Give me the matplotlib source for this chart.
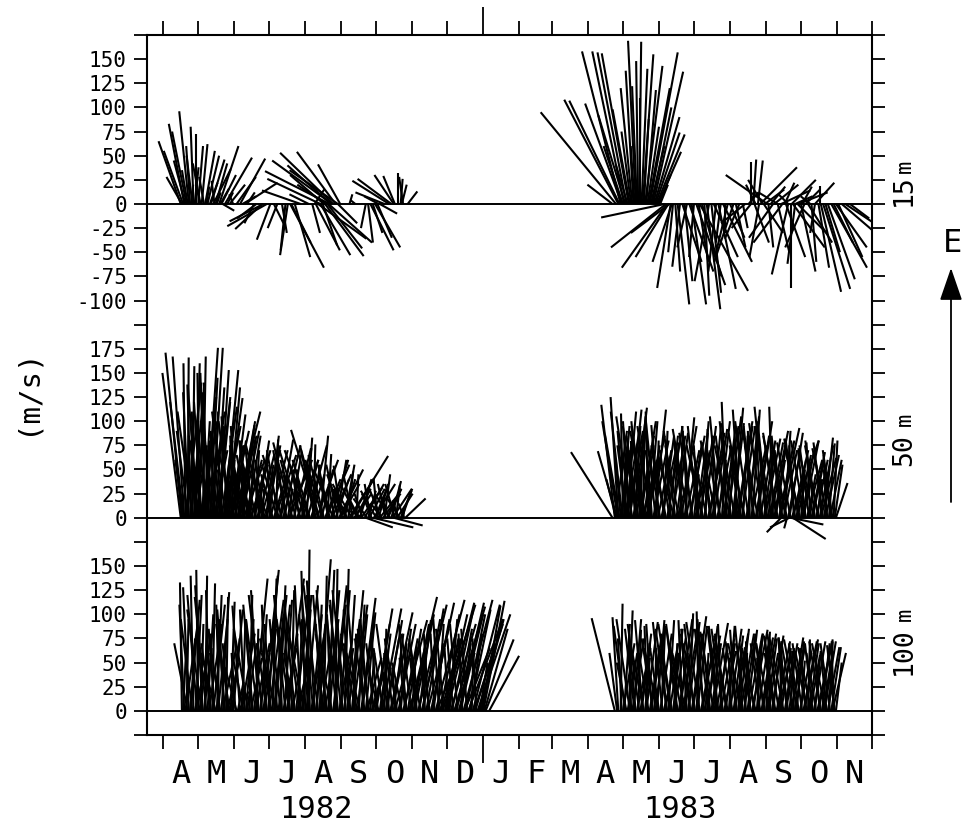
import numpy as np
import matplotlib.pyplot as plt
from matplotlib.collections import LineCollection
from matplotlib.transforms import blended_transform_factory

# current sticks: (day since 1 Apr 1982, north comp., east comp.)
top_82 = [
    (15, -23, 65), (16, -16, 28), (17, -20, 55), (18, -16, 83), (19, -12, 45), (20, -15, 75),
    (21, -6, 35), (22, -10, 96), (23, -4, 60), (24, 2, 20), (25, -6, 50), (26, -3, 80),
    (27, 4, 38), (28, 0, 72), (30, 5, 60), (31, -2, 15), (32, -8, 42), (33, 6, 62),
    (35, -5, 28), (36, 10, 55), (37, 3, 18), (38, 12, 50), (40, 8, 22), (41, 14, 46),
    (43, 18, 36), (44, -3, 24), (45, 12, 42), (46, 4, 12), (48, 20, 60), (49, 9, 16),
    (50, 15, 30), (51, 12, -7), (53, 28, 48), (55, 6, 12), (57, 16, 20), (60, -4, 10),
    (63, 20, 28), (66, 26, 47), (68, 14, 8), (70, 34, 22), (72, 8, 12), (78, -10, -20),
    (80, -20, -15), (85, -28, -26), (86, -35, -18), (89, -41, -23), (92, -14, -37),
    (95, 10, -20), (98, -10, -25), (102, 5, -30), (105, -5, -48), (107, -8, -53),
    (109, 35, -66), (110, 20, -40), (113, 16, -55), (118, -40, 14), (125, -20, 10),
    (128, 8, -30), (130, 10, 15), (131, 25, -48), (133, 50, -36), (135, 31, -53),
    (135, -55, 26), (137, 15, -43), (138, -35, 30), (139, 40, -54), (140, -30, 20),
    (141, 36, -46), (142, 45, -40), (143, -67, 34), (144, -45, 40), (145, -62, 45),
    (146, -55, 53), (148, -40, 54), (150, -50, 35), (150, 20, -20), (152, -23, 41),
    (160, 3, 10), (165, -5, 4), (174, -5, -25), (176, 5, -40), (178, 24, -48),
    (180, 10, -30), (182, 26, -45), (184, 15, -35), (185, -15, 8), (186, 18, -10),
    (190, -30, 12), (194, -38, 24), (196, -35, 26), (198, -20, 30), (199, -12, 29),
    (202, 0, 32), (204, 2, 26), (205, 5, 20), (206, -4, 28), (210, 10, 13),
]
top_83 = [
    (386, -26, 20), (389, -78, 95), (391, -56, 108), (392, -52, 107), (393, -40, 158),
    (394, -38, 104), (395, -20, 60), (396, -33, 158), (397, -28, 92), (398, -30, 157),
    (399, -12, 40), (400, -28, 156), (401, -18, 98), (402, -10, 75), (403, -12, 120),
    (404, -8, 138), (405, -4, 60), (406, -8, 169), (407, -5, 122), (408, -2, 148),
    (409, 2, 168), (410, 0, 110), (411, 6, 140), (412, 11, 155), (413, 5, 88),
    (414, 18, 143), (415, 10, 118), (416, 12, 80), (417, 22, 120), (418, 29, 157),
    (419, 14, 60), (420, 20, 100), (421, 31, 137), (422, 26, 90), (423, 25, 74),
    (424, 29, 72), (425, 24, 54), (426, 12, 30), (427, 8, 20),
    (431, -66, -14), (432, -57, -45), (433, -47, -66), (434, -34, -55), (435, -40, -30),
    (436, -14, -87), (437, -20, -60), (438, -5, -50), (440, 5, -70), (442, 12, -104),
    (444, -8, -65), (446, 20, -60), (448, 8, -80), (450, -10, -45), (452, 25, -70),
    (454, 15, -104), (456, -5, -55), (458, 30, -84), (460, 10, -60), (461, 50, -90),
    (463, 20, -75), (465, 5, -95), (467, 14, -109), (469, -15, -80), (471, 10, -92),
    (473, 25, -55), (475, -8, -70), (477, 18, -88), (479, -5, -40), (481, 30, -60),
    (483, 0, -30), (485, -12, -50), (487, 15, -35), (490, -20, -60), (492, 10, -45),
    (495, -15, -36), (498, 5, -25), (500, -25, -20),
    (503, 10, 12), (505, 0, 43), (507, 3, 46), (509, -10, 20), (511, 5, 45), (513, 38, 38),
    (515, -15, 25), (517, 20, 15), (519, -43, 30), (522, 15, 18), (525, 25, 20),
    (528, -20, 12), (531, 30, 14), (534, 10, 22), (537, -10, 10), (540, 25, 25),
    (543, 18, 8), (546, 30, 12), (549, 10, 18), (552, 15, 15), (556, -10, 8),
    (560, 20, 22), (564, 0, 19),
    (505, -20, -25), (508, 15, -40), (512, -10, -55), (516, 20, -30), (520, 5, -45),
    (524, -25, -35), (528, 12, -50), (532, -30, -40), (535, 20, -55), (537, -17, -73),
    (539, 0, -87), (541, 33, -45), (543, -8, -62), (545, 30, -30), (548, 15, -70),
    (551, -20, -45), (554, 25, -40), (557, 5, -60), (560, -5, -30), (563, 11, -66),
    (565, 21, -91), (567, 28, -88), (569, 15, -50), (571, 28, -78), (574, 37, -66),
    (576, 20, -40), (578, 32, -45), (580, 25, -55), (583, 35, -30), (586, 30, -20),
    (590, 20, -15),
]
mid_82 = [
    (15, -19, 150), (16, -17, 171), (17, -8, 60), (18, -12, 167), (19, -2, 160), (20, 5, 45),
    (21, 1, 166), (22, -6, 130), (23, 3, 90), (24, -4, 138), (25, 2, 157), (26, 8, 70),
    (27, -3, 110), (28, 4, 160), (29, -6, 95), (30, 6, 140), (31, -2, 150), (32, 10, 60),
    (33, -8, 120), (34, 3, 167), (35, 6, 100), (36, -5, 150), (37, 12, 176), (38, 2, 80),
    (39, -6, 130), (40, 8, 145), (41, -3, 60), (42, 11, 176), (43, 5, 110), (44, -4, 90),
    (45, 9, 135), (46, 14, 125), (47, -8, 70), (48, 10, 153), (49, 3, 95), (50, 16, 115),
    (51, -5, 50), (52, 15, 153), (53, 8, 80), (54, 17, 124), (55, -6, 105), (56, 12, 135),
    (57, 20, 90), (58, 4, 60), (59, 14, 107), (60, -3, 85), (61, 27, 110), (62, 9, 75),
    (63, -6, 95), (64, 18, 100), (65, 5, 50), (66, 15, 96), (67, -10, 70), (68, 12, 86),
    (69, 22, 60), (70, -5, 80), (71, 8, 40), (72, 14, 85), (73, -12, 65), (74, 6, 81),
    (75, 18, 55), (77, -8, 75), (78, 10, 35), (79, 4, 70), (80, -15, 60), (81, 12, 80),
    (83, -6, 45), (84, 20, 70), (85, 2, 30), (86, -18, 75), (88, 8, 55), (91, 10, 85),
    (93, -5, 60), (95, 15, 50), (97, 2, 81), (99, -12, 70), (101, 8, 40), (103, 18, 75),
    (105, -8, 55), (107, 5, 30), (109, 12, 68), (111, -20, 78), (113, 3, 50), (115, 22, 60),
    (117, -6, 40), (119, 10, 72), (121, -15, 55), (123, 6, 83), (125, -25, 70), (127, 14, 45),
    (129, 2, 76), (131, -10, 50), (133, -28, 91), (135, 8, 85), (137, -18, 60), (139, 16, 40),
    (141, 4, 66), (143, -12, 55), (145, 20, 45), (147, -6, 35), (149, 10, 60), (151, 25, 50),
    (153, -8, 54), (155, 12, 40), (157, -15, 30), (159, 5, 48), (160, 40, 64), (162, -20, 35),
    (164, 18, 25), (166, 2, 45), (168, -10, 20), (170, 22, 31), (172, -25, 12), (174, 28, -10),
    (176, 8, 28), (178, -6, 35), (180, 42, -10), (182, 12, 30), (184, -4, 41), (186, 20, 25),
    (188, -12, 15), (190, 6, 45), (192, 15, 30), (194, -8, 22), (196, 10, 38), (198, 30, -8),
    (200, 4, 34), (202, -6, 18), (204, 12, 30), (206, 2, 12), (208, 21, 20),
    (15.5, 10, 80), (17.5, -14, 120), (19.5, 16, 140), (21.5, -12, 90), (23.5, 14, 130),
    (25.5, -16, 110), (27.5, 12, 75), (29.5, -10, 135), (31.5, 18, 100), (33.5, -14, 85),
    (35.5, 12, 125), (37.5, -10, 95), (39.5, 16, 110), (41.5, -12, 140), (43.5, 14, 70),
    (45.5, -16, 100), (47.5, 12, 120), (49.5, -10, 85), (51.5, 18, 95), (53.5, -14, 110),
    (55.5, 16, 75), (57.5, -12, 100), (59.5, 14, 80), (61.5, -16, 65), (63.5, 20, 85),
    (65.5, -10, 75), (67.5, 18, 90), (69.5, -14, 70), (71.5, 16, 60), (73.5, -10, 80),
    (75.5, 20, 70), (76, -14, 50), (82, 16, 65), (87, -10, 60), (89, 14, 75), (90, -20, 50),
    (92, 18, 70), (94, -12, 45), (96, 22, 65), (98, -16, 55), (100, 14, 81), (102, -20, 65),
    (104, 10, 50), (106, -14, 70), (108, 24, 60), (110, -8, 45), (112, 18, 72), (114, -16, 60),
    (116, 12, 50), (118, -22, 70), (120, 16, 60), (122, -10, 50), (124, 20, 75), (126, -18, 60),
    (128, 8, 55), (130, -14, 70), (132, 22, 60), (134, -20, 75), (136, 12, 50), (138, -16, 65),
    (140, 24, 55), (142, -10, 45), (144, 18, 60), (146, -20, 50), (148, 14, 40), (150, -12, 55),
    (152, 20, 35), (154, -16, 45), (156, 10, 55), (158, -14, 30), (161, 24, 40), (163, -10, 45),
    (165, 16, 30), (167, -18, 35), (169, 12, 40), (171, -8, 25), (173, 20, 35), (175, -14, 20),
    (177, 16, 30), (179, -10, 25), (181, 22, 35), (183, -16, 28), (185, 10, 35), (187, -12, 30),
    (189, 18, 25), (191, -8, 35), (193, 14, 30), (195, -16, 25), (197, 20, 30), (199, -10, 35),
    (201, 16, 25), (203, -14, 22), (205, 10, 28), (207, -6, 15),
]
mid_83 = [
    (386, -43, 68), (388, -14, 117), (389, -10, 40), (390, -20, 69), (391, -8, 125),
    (392, -15, 86), (393, -5, 60), (394, 8, 95), (395, -2, 108), (396, 5, 70), (397, -8, 90),
    (398, 10, 110), (399, 3, 50), (400, -6, 100), (401, 12, 112), (402, 0, 80), (403, -10, 65),
    (404, 14, 114), (405, 6, 95), (406, -4, 45), (407, 9, 105), (408, -12, 85), (409, 4, 70),
    (410, 16, 100), (411, -6, 55), (412, 2, 90), (413, 10, 75), (414, -14, 95), (415, 6, 40),
    (416, 18, 85), (417, -3, 110), (418, 8, 100), (420, -5, 60), (422, 12, 112), (424, 2, 80),
    (426, -8, 96), (428, 15, 70), (430, 4, 90), (432, -10, 50), (434, 10, 85), (436, -4, 66),
    (438, 6, 78), (440, -12, 90), (442, 14, 55), (444, 3, 90), (446, -6, 70), (448, 10, 104),
    (450, -2, 60), (452, 16, 85), (454, -10, 95), (456, 5, 45), (458, 12, 88), (460, -5, 75),
    (462, 8, 100), (464, -14, 65), (466, 2, 92), (468, 18, 80), (470, -6, 55), (472, 9, 98),
    (474, -3, 85), (476, 14, 70), (478, -10, 105), (480, 4, 60), (482, 12, 95), (484, -5, 120),
    (486, 6, 80), (488, -12, 100), (490, 10, 114), (492, 0, 70), (494, 15, 95), (496, -8, 112),
    (498, 5, 85), (500, -14, 60), (502, 12, 105), (504, -2, 90), (506, 8, 112), (508, -10, 75),
    (510, 16, 100), (512, 3, 55), (514, -6, 95), (516, 12, 80), (518, -12, 115), (520, 6, 70),
    (522, 18, 90), (524, -4, 115), (526, 10, 60), (528, -15, 85), (530, 20, 93), (532, -8, 70),
    (534, 6, 90), (536, -12, 55), (538, 14, 88), (540, 28, 80), (542, -5, 75), (544, 10, 60),
    (546, -15, 82), (548, 4, 50), (550, 16, 80), (552, -8, 70), (554, 8, 45), (556, -4, 78),
    (558, 12, 60), (560, -10, 80), (562, 5, 40), (564, 14, 75), (566, -6, 55), (568, 9, 83),
    (570, -3, 65), (572, 6, 77), (574, -8, 50), (576, 4, 80), (578, 12, 36),
    (531, -15, -15), (536, -3, -11), (538, -20, -10), (539, 34, -7), (541, 34, -22),
    (388.5, 12, 90), (390.5, -16, 100), (392.5, 14, 80), (394.5, -12, 110), (396.5, 16, 95),
    (398.5, -10, 75), (400.5, 14, 90), (402.5, -16, 105), (404.5, 12, 70), (406.5, -14, 95),
    (408.5, 16, 85), (410.5, -10, 100), (412.5, 14, 60), (414.5, -16, 90), (416.5, 12, 75),
    (419, -14, 95), (421, 16, 80), (423, -10, 100), (425, 14, 70), (427, -16, 90), (429, 12, 85),
    (431, -14, 75), (433, 16, 95), (435, -10, 70), (437, 14, 85), (439, -16, 60), (441, 12, 88),
    (443, -14, 75), (445, 16, 95), (447, -10, 80), (449, 14, 70), (451, -16, 92), (453, 12, 78),
    (455, -14, 88), (457, 16, 70), (459, -10, 95), (461, 14, 85), (463, -16, 75), (465, 12, 95),
    (467, -14, 68), (469, 16, 88), (471, -10, 78), (473, 14, 92), (475, -16, 80), (477, 12, 100),
    (479, -14, 70), (481, 16, 95), (483, -10, 85), (485, 14, 105), (487, -16, 75), (489, 12, 98),
    (491, -14, 85), (493, 16, 100), (495, -10, 75), (497, 14, 95), (499, -16, 88), (501, 12, 80),
    (503, -14, 100), (505, 16, 75), (507, -10, 95), (509, 14, 85), (511, -16, 90), (513, 12, 70),
    (515, -14, 98), (517, 16, 82), (519, -10, 100), (521, 14, 78), (523, -16, 90), (525, 12, 72),
    (527, -14, 88), (529, 16, 80), (531, -10, 85), (533, 14, 70), (535, -16, 80), (537, 12, 65),
    (539, -14, 78), (541, 16, 70), (543, -10, 82), (545, 14, 65), (547, -16, 75), (549, 12, 68),
    (551, -14, 80), (553, 16, 60), (555, -10, 75), (557, 14, 68), (559, -16, 72), (561, 12, 60),
    (563, -14, 75), (565, 16, 62), (567, -10, 78), (569, 14, 65), (571, -16, 72), (573, 12, 60),
    (575, -10, 70), (577, 8, 55),
]
bot_82 = [
    (16, -2, 133), (17, 3, 60), (18, -5, 110), (20, 2, 95), (22, -6, 128), (24, 4, 75),
    (26, -3, 140), (28, 6, 120), (30, -2, 146), (32, 3, 90), (34, -8, 130), (36, 2, 140),
    (38, 6, 100), (40, -4, 125), (42, 3, 132), (44, -6, 85), (46, 5, 120), (48, -3, 110),
    (50, 8, 123), (52, -5, 95), (54, 2, 118), (56, -6, 70), (58, 4, 113), (60, 10, 105),
    (62, -4, 60), (64, 6, 30), (66, -8, 109), (68, 3, 90), (70, -5, 105), (72, 10, 70),
    (74, 3, 120), (76, -6, 95), (78, 14, 137), (80, 2, 85), (82, -8, 125), (84, 6, 100),
    (86, 16, 146), (88, -4, 110), (90, 10, 140), (92, -6, 90), (94, 4, 137), (96, 12, 120),
    (98, -8, 95), (100, 6, 130), (102, -3, 70), (104, 8, 115), (106, 18, 137), (108, -5, 100),
    (110, 3, 125), (112, -10, 60), (114, 14, 120), (116, 4, 95), (118, -6, 130), (120, 8, 105),
    (122, -4, 145), (124, 2, 167), (126, -3, 120), (128, 10, 100), (130, -8, 135), (132, 5, 110),
    (134, 12, 157), (136, -6, 90), (138, 3, 140), (140, -10, 125), (142, 6, 146), (144, -4, 100),
    (146, 14, 130), (148, 2, 147), (150, -8, 115), (152, 10, 125), (154, -5, 90), (156, 4, 147),
    (158, 8, 120), (160, -6, 105), (162, 12, 125), (164, 2, 80), (166, -10, 122), (168, 6, 110),
    (170, 15, 117), (172, -4, 85), (174, 10, 102), (176, -8, 95), (178, 4, 60), (180, 12, 40),
    (182, 18, 106), (184, -6, 75), (186, 8, 55), (188, 20, 106), (190, 2, 85), (192, 16, 94),
    (194, -5, 60), (196, 22, 102), (198, 10, 80), (200, -4, 45), (202, 18, 90), (204, 6, 70),
    (206, 25, 94), (208, -6, 55), (210, 14, 85), (212, 28, 118), (214, 4, 65), (216, 20, 100),
    (218, -8, 75), (220, 12, 94), (222, 26, 110), (224, 2, 60), (226, 18, 106), (228, -5, 80),
    (230, 24, 112), (232, 10, 70), (234, 30, 115), (236, 6, 90), (238, 20, 100), (240, 34, 110),
    (242, 14, 75), (244, 28, 112), (246, 8, 95), (248, 22, 104), (250, 32, 108), (252, 16, 85),
    (254, 26, 112), (256, 10, 70), (258, 30, 115), (260, 20, 100), (262, 36, 95), (264, 12, 80),
    (266, 28, 110), (268, 18, 60), (270, 34, 100), (272, 8, 50), (274, 19, 109), (275, 22, 114),
    (276, 24, 85), (277, 29, 74), (280, 31, 57),
    (19, 12, 85), (21, -14, 70), (23, 10, 115), (25, -12, 95), (27, 15, 60), (29, -10, 120),
    (31, 12, 80), (33, -15, 105), (35, 8, 65), (37, -12, 118), (39, 14, 90), (41, -10, 70),
    (43, 12, 110), (45, -15, 60), (47, 10, 95), (49, -12, 80), (51, 14, 65), (53, -8, 105),
    (55, 12, 50), (57, -14, 90), (59, 8, 75), (63, -12, 45), (65, 10, 20), (67, 14, 80),
    (69, -12, 60), (71, 8, 95), (73, -15, 85), (75, 12, 55), (77, -10, 110), (79, 15, 70),
    (81, -12, 95), (83, 10, 60), (85, -14, 120), (87, 12, 85), (89, -10, 70), (91, 15, 115),
    (93, -12, 75), (95, 10, 100), (97, -15, 60), (99, 12, 110), (101, -10, 85), (103, 14, 65),
    (105, -12, 120), (107, 10, 80), (109, -14, 95), (111, 12, 70), (113, -10, 105), (115, 15, 60),
    (117, -12, 90), (119, 10, 120), (121, -15, 75), (123, 12, 130), (125, -10, 100), (127, 14, 80),
    (129, -12, 115), (131, 10, 90), (133, -15, 130), (135, 12, 70), (137, -10, 120), (139, 14, 95),
    (141, -12, 80), (143, 10, 125), (145, -15, 70), (147, 12, 110), (149, -10, 95), (151, 14, 75),
    (153, -12, 110), (155, 10, 65), (157, -14, 125), (159, 12, 95), (161, -10, 80), (163, 15, 110),
    (165, -12, 70), (167, 10, 100), (169, -14, 60), (171, 12, 95), (173, -10, 75), (175, 15, 55),
    (177, -12, 85), (179, 10, 35), (181, -8, 70), (183, 14, 90), (185, -12, 50), (187, 10, 80),
    (189, -10, 65), (191, 14, 75), (193, -12, 90), (195, 10, 45), (197, -8, 75), (199, 16, 60),
    (201, -12, 70), (203, 12, 85), (205, -10, 50), (207, 14, 75), (209, -8, 90), (211, 18, 60),
    (213, -10, 80), (215, 16, 90), (217, -6, 55), (219, 20, 80), (221, -10, 65), (223, 18, 95),
    (225, -6, 70), (227, 22, 85), (229, -8, 55), (231, 18, 95), (233, -4, 80), (235, 24, 60),
    (237, -6, 95), (239, 20, 75), (241, -8, 85), (243, 22, 100), (245, -4, 65), (247, 26, 90),
    (249, -6, 75), (251, 20, 60), (253, -8, 90), (255, 24, 100), (257, -4, 80), (259, 26, 65),
    (261, -6, 85), (263, 22, 105), (265, 2, 70), (267, 30, 90), (269, -4, 75), (271, 26, 95),
    (273, 14, 70),
]
bot_83 = [
    (388, -24, 96), (390, -8, 60), (391, -6, 97), (393, 2, 111), (394, -4, 75), (396, 6, 90),
    (398, -10, 50), (400, 4, 104), (402, -2, 80), (404, 8, 95), (406, -6, 60), (408, 3, 84),
    (410, 10, 70), (412, -8, 94), (414, 5, 55), (416, -3, 88), (418, 12, 75), (420, -6, 90),
    (422, 2, 65), (424, 8, 94), (426, -10, 70), (428, 4, 88), (430, 14, 60), (432, -5, 80),
    (434, 6, 94), (436, -8, 55), (438, 10, 85), (440, 2, 70), (442, -12, 90), (444, 8, 60),
    (446, -4, 94), (448, 12, 75), (450, -6, 85), (452, 4, 101), (454, 10, 65), (456, -10, 90),
    (458, 6, 80), (460, -2, 103), (462, 14, 70), (464, -6, 95), (466, 3, 60), (468, 10, 88),
    (470, -8, 75), (472, 16, 91), (474, 2, 55), (476, -10, 85), (478, 8, 70), (480, -4, 90),
    (482, 12, 62), (484, -12, 80), (486, 6, 88), (488, -2, 55), (490, 10, 78), (492, -6, 84),
    (494, 4, 65), (496, 14, 80), (498, -8, 88), (500, 2, 60), (502, 10, 84), (504, -4, 72),
    (506, 16, 84), (508, -10, 66), (510, 6, 80), (512, -2, 55), (514, 12, 76), (516, -8, 70),
    (518, 4, 82), (520, 10, 60), (522, -6, 76), (524, 8, 70), (526, -12, 78), (528, 14, 55),
    (530, 2, 72), (532, -4, 76), (534, 10, 65), (536, -8, 72), (538, 6, 58), (540, 12, 76),
    (542, -2, 62), (544, 8, 72), (546, -10, 70), (548, 4, 52), (550, 14, 72), (552, -6, 65),
    (554, 2, 74), (556, 10, 58), (558, -8, 70), (560, 6, 62), (562, 16, 74), (564, -4, 55),
    (566, 8, 70), (568, 12, 72), (570, -6, 60), (572, 4, 72), (574, 10, 66), (576, -2, 72),
    (578, 6, 50),
    (395, 12, 70), (397, -12, 88), (399, 10, 60), (401, -14, 95), (403, 12, 75), (405, -10, 85),
    (407, 14, 65), (409, -12, 90), (411, 10, 80), (413, -14, 70), (415, 12, 92), (417, -10, 60),
    (419, 14, 85), (421, -12, 75), (423, 10, 88), (425, -14, 65), (427, 12, 80), (429, -10, 92),
    (431, 14, 70), (433, -12, 85), (435, 10, 60), (437, -14, 90), (439, 12, 75), (441, -10, 82),
    (443, 14, 95), (445, -12, 70), (447, 10, 85), (449, -14, 60), (451, 12, 92), (453, -10, 80),
    (455, 14, 98), (457, -12, 70), (459, 10, 88), (461, -14, 92), (463, 12, 65), (465, -10, 85),
    (467, 14, 78), (469, -12, 90), (471, 10, 70), (473, -14, 82), (475, 12, 60), (477, -10, 88),
    (479, 14, 75), (481, -12, 85), (483, 10, 70), (485, -14, 78), (487, 12, 85), (489, -10, 65),
    (491, 14, 80), (493, -12, 72), (495, 10, 85), (497, -14, 70), (499, 12, 80), (501, -10, 62),
    (503, 14, 78), (505, -12, 70), (507, 10, 80), (509, -14, 65), (511, 12, 76), (513, -10, 70),
    (515, 14, 80), (517, -12, 62), (519, 10, 75), (521, -14, 70), (523, 12, 78), (525, -10, 60),
    (527, 14, 72), (529, -12, 80), (531, 10, 65), (533, -14, 74), (535, 12, 70), (537, -10, 76),
    (539, 14, 62), (541, -12, 72), (543, 10, 68), (545, -14, 74), (547, 12, 60), (549, -10, 70),
    (551, 14, 74), (553, -12, 62), (555, 10, 70), (557, -14, 66), (559, 12, 72), (561, -10, 60),
    (563, 14, 70), (565, -12, 72), (567, 10, 62), (569, -14, 70), (571, 12, 66), (573, -10, 70),
    (575, 14, 60), (577, -8, 68),
]

month_starts = [0, 30, 61, 91, 122, 153, 183, 214, 244, 275, 306, 334, 365,
                395, 426, 456, 487, 518, 548, 579, 609]
month_names = list("AMJJASONDJFMAMJJASON")
years = [("1982", 131), ("1983", 444)]
# depth label, pixel row of the number, pixel row of the unit
depths = [("15", 190, 166), ("50", 450, 419), ("100", 651, 614)]

# vertical offsets of the three depth panels on the shared axis
off_top, off_mid, off_bot = 525, 200, 0

mono = "DejaVu Sans Mono"
W, H = 963, 831
fig = plt.figure(figsize=(W / 100, H / 100), dpi=100)
ax = fig.add_axes([147 / W, 96 / H, 725 / W, 700 / H])
x0, x1, y0, y1 = -14, 609, -25, 700
ax.set_xlim(x0, x1)
ax.set_ylim(y0, y1)

# days per velocity unit so a stick keeps its true direction on screen
kx = (700 / (y1 - y0)) / (725 / (x1 - x0))


def draw_sticks(data, offset):
    segs = [[(d, offset), (d + kx * u, offset + v)] for d, u, v in data]
    ax.add_collection(LineCollection(segs, colors="black", linewidths=1.5))


for data, off in [(top_82, off_top), (top_83, off_top), (mid_82, off_mid),
                  (mid_83, off_mid), (bot_82, off_bot), (bot_83, off_bot)]:
    draw_sticks(data, off)
for off in (off_top, off_mid, off_bot):
    ax.axhline(off, color="black", lw=1.4)

# y ticks every 25, labelled per panel
yt = np.arange(-25, 701, 25)
ylab = []
for y in yt:
    if off_top - 100 <= y <= off_top + 150:
        ylab.append(str(y - off_top))
    elif off_mid <= y <= off_mid + 175:
        ylab.append(str(y - off_mid))
    elif off_bot <= y <= off_bot + 150:
        ylab.append(str(y - off_bot))
    else:
        ylab.append("")
ax.set_yticks(yt)
ax.set_yticklabels(ylab, family=mono, fontsize=15)
ax.tick_params(axis="y", direction="out", length=9.5, width=1.3, pad=5,
               left=True, right=True, labelright=False)

ax.set_xticks([275])
ax.set_xticks(month_starts, minor=True)
ax.tick_params(axis="x", which="major", direction="out", length=20, width=1.3,
               top=True, bottom=True, labelbottom=False)
ax.tick_params(axis="x", which="minor", direction="out", length=10, width=1.3,
               top=True, bottom=True, labelbottom=False)
for sp in ax.spines.values():
    sp.set_linewidth(1.5)

tr = blended_transform_factory(ax.transData, ax.transAxes)
for i, name in enumerate(month_names):
    mid = 0.5 * (month_starts[i] + month_starts[i + 1])
    ax.text(mid, -0.056, name, transform=tr, ha="center", va="center",
            family=mono, fontsize=23)
for yr, d in years:
    ax.text(d, -0.107, yr, transform=tr, ha="center", va="center",
            family=mono, fontsize=22)

for num, py, pm in depths:
    fig.text(904 / W, 1 - py / H, num, rotation=90, ha="center", va="center",
             family=mono, fontsize=19)
    fig.text(905 / W, 1 - pm / H, "m", rotation=90, ha="center", va="center",
             family=mono, fontsize=16)

fig.text(26 / W, 1 - 391 / H, "(m/s)", rotation=90, ha="center", va="center",
         family=mono, fontsize=21)
fig.text(952 / W, 1 - 243 / H, "E", ha="center", va="center",
         family=mono, fontsize=23)
ax.annotate("", xy=(951, H - 268), xytext=(951, H - 502),
            xycoords="figure pixels", textcoords="figure pixels",
            arrowprops=dict(arrowstyle="-|>,head_length=1.45,head_width=0.5",
                            mutation_scale=14, color="black", lw=1.3,
                            shrinkA=0, shrinkB=0))

fig.savefig("out.png", dpi=100)
